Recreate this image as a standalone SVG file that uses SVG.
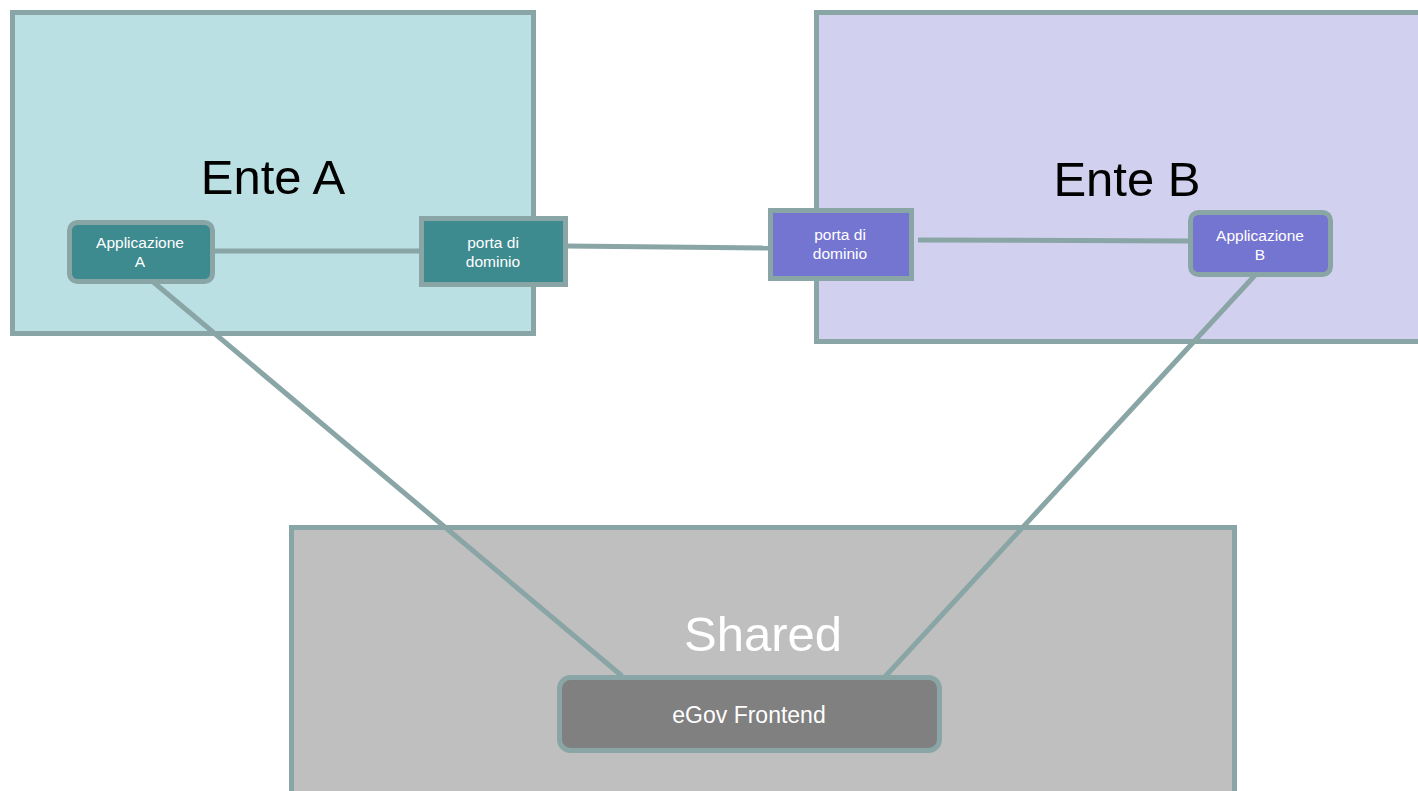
<svg xmlns="http://www.w3.org/2000/svg" width="1418" height="791" viewBox="0 0 1418 791">
<style>
.cont{stroke:#8aa5a5;stroke-width:5}
.node{stroke:#8aa5a5;stroke-width:5}
.big{font-family:"Liberation Sans",Arial,sans-serif;font-size:49px;text-anchor:middle}
.small{font-family:"Liberation Sans",Arial,sans-serif;font-size:15.5px;fill:#ffffff;text-anchor:middle}
.conn line{stroke:#8aa5a5;stroke-width:5;stroke-linecap:butt}
</style>
<rect width="1418" height="791" fill="#ffffff"/>
<g id="enteA">
<rect class="cont" x="12.5" y="12.5" width="521" height="321" fill="#bbe0e3"/>
<text class="big" x="273" y="194" fill="#000000">Ente A</text>
</g>
<g id="enteB">
<rect class="cont" x="816.5" y="12.5" width="610" height="329" fill="#d1d1ef"/>
<text class="big" x="1127" y="196" fill="#000000">Ente B</text>
</g>
<g id="shared">
<rect class="cont" x="291.5" y="527.5" width="943" height="280" fill="#bfbfbf"/>
<text class="big" x="763" y="651" fill="#ffffff">Shared</text>
</g>
<g class="conn" id="connectors">
<line x1="212" y1="251" x2="421" y2="251"/>
<line x1="566" y1="246" x2="770" y2="248"/>
<line x1="918" y1="240" x2="1190" y2="241"/>
<line x1="145" y1="275" x2="622" y2="676"/>
<line x1="1258" y1="272" x2="882" y2="680"/>
</g>
<g id="appA">
<rect class="node" x="69.5" y="222.5" width="143" height="59" rx="8" fill="#3d8a8f"/>
<text class="small" x="140" y="248">Applicazione</text>
<text class="small" x="140" y="267">A</text>
</g>
<g id="portaA">
<rect class="node" x="421.5" y="218.5" width="144" height="66" fill="#3d8a8f"/>
<text class="small" x="493" y="248">porta di</text>
<text class="small" x="493" y="267">dominio</text>
</g>
<g id="portaB">
<rect class="node" x="770.5" y="210.5" width="141" height="68" fill="#7474d1"/>
<text class="small" x="840" y="240">porta di</text>
<text class="small" x="840" y="259">dominio</text>
</g>
<g id="appB">
<rect class="node" x="1190.5" y="212.5" width="140" height="62" rx="8" fill="#7474d1"/>
<text class="small" x="1260" y="241">Applicazione</text>
<text class="small" x="1260" y="260">B</text>
</g>
<g id="egov">
<rect class="node" x="559.5" y="677.5" width="380" height="73" rx="11" fill="#808080"/>
<text x="749" y="723" font-family="Liberation Sans, Arial, sans-serif" font-size="23" fill="#ffffff" text-anchor="middle">eGov Frontend</text>
</g>
</svg>
